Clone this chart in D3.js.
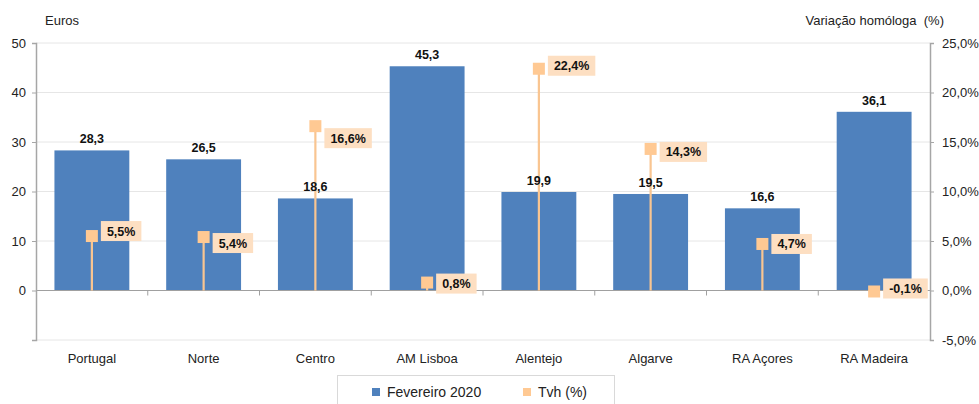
<!DOCTYPE html>
<html><head><meta charset="utf-8">
<script src="https://cdn.jsdelivr.net/npm/d3@7"></script>
<style>body{margin:0;background:#fff;} svg{display:block;font-family:"Liberation Sans",Arial,sans-serif;}</style>
</head><body>
<svg id="c" width="979" height="404"></svg>
<script>
const categories = ["Portugal","Norte","Centro","AM Lisboa","Alentejo","Algarve","RA Açores","RA Madeira"];
const valores = [28.3, 26.5, 18.6, 45.3, 19.9, 19.5, 16.6, 36.1];
const tvh = [5.5, 5.4, 16.6, 0.8, 22.4, 14.3, 4.7, -0.1];
const leftTicks = [-10, 0, 10, 20, 30, 40, 50];
const rightTicks = [-5, 0, 5, 10, 15, 20, 25];
const labelDy = [-5, 6, 12, 1, -3, 3, 0, -3];

const svg = d3.select("#c");
const L = 36, R = 930, T = 43, B = 340;
const x = d3.scaleBand().domain(categories).range([L, R]).paddingInner(0.33).paddingOuter(0.165);
const xc = d3.scaleBand().domain(categories).range([L, R]);
const yL = d3.scaleLinear().domain([-10, 50]).range([B, T]);
const yR = d3.scaleLinear().domain([-5, 25]).range([B, T]);
const fmt1 = v => d3.format(".1f")(v).replace(".", ",").replace("\u2212", "-");
const FF = "Liberation Sans, Arial, sans-serif";

// gridlines
svg.append("g").selectAll("line").data(leftTicks.filter(d => d !== 0)).join("line")
  .attr("x1", L).attr("x2", R).attr("y1", d => yL(d)).attr("y2", d => yL(d))
  .attr("stroke", "#E6E6E6").attr("stroke-width", 1);

// bars
svg.append("g").selectAll("rect").data(valores).join("rect")
  .attr("x", (d, i) => x(categories[i])).attr("width", x.bandwidth())
  .attr("y", d => yL(d)).attr("height", d => yL(0) - yL(d))
  .attr("fill", "#4F81BD");

// zero line
svg.append("line").attr("x1", L).attr("x2", R).attr("y1", yL(0)).attr("y2", yL(0))
  .attr("stroke", "#A0A0A0").attr("stroke-width", 1);
// category ticks
svg.append("g").selectAll("line").data(categories.slice(1)).join("line")
  .attr("x1", d => xc(d)).attr("x2", d => xc(d)).attr("y1", yL(0)).attr("y2", yL(0) + 5)
  .attr("stroke", "#A0A0A0");

// left axis
const axL = svg.append("g").attr("transform", `translate(${L},0)`)
  .call(d3.axisLeft(yL).tickValues(leftTicks).tickSize(4).tickPadding(6).tickFormat(d => d === -10 ? "" : d));
axL.attr("font-family", FF);
axL.select(".domain").attr("stroke", "#A6A6A6").attr("stroke-width", 1.5);
axL.selectAll(".tick line").attr("stroke", "#A6A6A6");
axL.selectAll("text").attr("font-size", 13).attr("fill", "#222");

// right axis
const axR = svg.append("g").attr("transform", `translate(${R},0)`)
  .call(d3.axisRight(yR).tickValues(rightTicks).tickSize(4).tickPadding(8).tickFormat(d => fmt1(d) + "%"));
axR.attr("font-family", FF);
axR.select(".domain").attr("stroke", "#A6A6A6").attr("stroke-width", 1.5);
axR.selectAll(".tick line").attr("stroke", "#A6A6A6");
axR.selectAll("text").attr("font-size", 13).attr("fill", "#222");

// stems
const cx = c => xc(c) + xc.bandwidth() / 2;
svg.append("g").selectAll("line").data(tvh).join("line")
  .attr("x1", (d, i) => cx(categories[i])).attr("x2", (d, i) => cx(categories[i]))
  .attr("y1", yR(0)).attr("y2", d => yR(d))
  .attr("stroke", "#F9C591").attr("stroke-width", 2.2);
// markers
svg.append("g").selectAll("rect").data(tvh).join("rect")
  .attr("x", (d, i) => cx(categories[i]) - 6).attr("y", d => yR(d) - 6)
  .attr("width", 12).attr("height", 12).attr("fill", "#FFC993");

// bar labels
svg.append("g").selectAll("text").data(valores).join("text")
  .attr("x", (d, i) => x(categories[i]) + x.bandwidth() / 2).attr("y", d => yL(d) - 7)
  .attr("text-anchor", "middle").attr("font-size", 12.5).attr("font-weight", "bold").attr("fill", "#111")
  .text(d => fmt1(d));

// tvh labels
const lg = svg.append("g").selectAll("g").data(tvh).join("g")
  .attr("transform", (d, i) => `translate(${cx(categories[i]) + 9},${yR(d) + labelDy[i]})`);
lg.append("text").attr("x", 6).attr("y", 4.5).attr("font-size", 12.5).attr("font-weight", "bold").attr("fill", "#111")
  .text(d => fmt1(d) + "%");
lg.each(function () {
  const g = d3.select(this), t = g.select("text"), w = t.node().getComputedTextLength();
  g.insert("rect", "text").attr("x", 0).attr("y", -10).attr("width", w + 12).attr("height", 20).attr("fill", "#FDDFC2");
});

// category labels
svg.append("g").selectAll("text").data(categories).join("text")
  .attr("x", d => cx(d)).attr("y", 363).attr("text-anchor", "middle").attr("font-size", 13).attr("fill", "#222")
  .text(d => d);

// axis titles
svg.append("text").attr("x", 45).attr("y", 25).attr("font-size", 13).attr("fill", "#222").text("Euros");
svg.append("text").attr("x", 944).attr("y", 25).attr("text-anchor", "end").attr("font-size", 13).attr("fill", "#222")
  .attr("xml:space", "preserve").style("white-space", "pre").text("Variação homóloga  (%)");

// legend
svg.append("rect").attr("x", 337.5).attr("y", 375.5).attr("width", 277).attr("height", 40)
  .attr("fill", "#fff").attr("stroke", "#D9D9D9");
const legItems = [{label: "Fevereiro 2020", color: "#4F81BD", x: 372}, {label: "Tvh (%)", color: "#FFC993", x: 523}];
const li = svg.append("g").selectAll("g").data(legItems).join("g").attr("transform", d => `translate(${d.x},388)`);
li.append("rect").attr("width", 8).attr("height", 8).attr("fill", d => d.color);
li.append("text").attr("x", 15).attr("y", 9).attr("font-size", 14).attr("fill", "#222").text(d => d.label);
</script>
</body></html>
